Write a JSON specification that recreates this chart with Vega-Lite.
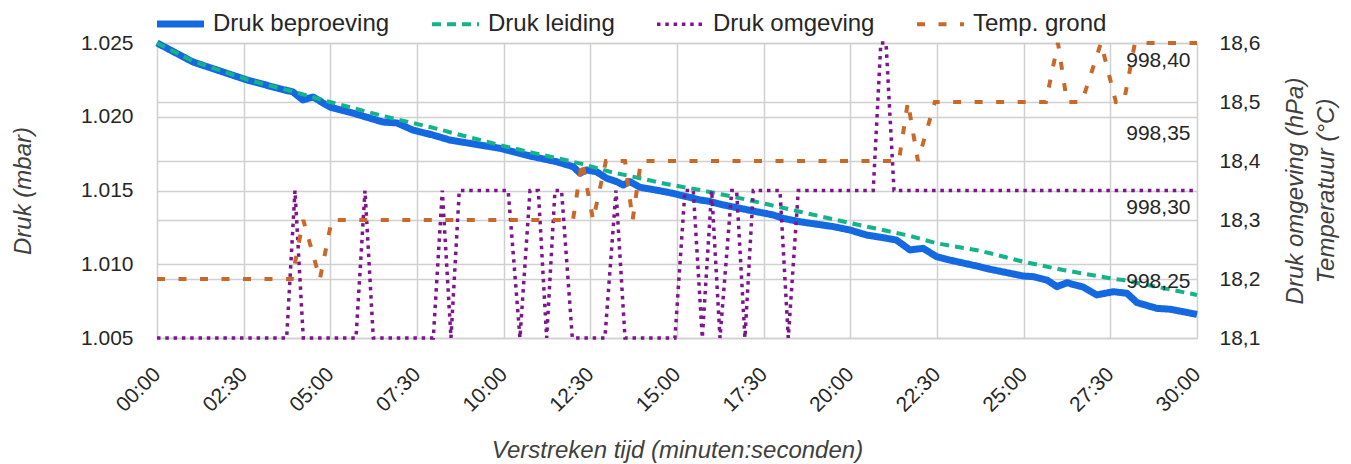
{
  "$schema": "https://vega.github.io/schema/vega-lite/v6.json",
  "width": 1040,
  "height": 295,
  "autosize": {"type": "none"},
  "padding": {"left": 157, "top": 43, "right": 154, "bottom": 126},
  "config": {
    "locale": {"number": {"decimal": ",", "thousands": ".", "grouping": [3], "currency": ["€", ""]}},
    "view": {"stroke": null},
    "font": "Liberation Sans",
    "axis": {
      "labelFont": "Liberation Sans", "labelFontSize": 21, "labelColor": "#262626",
      "titleFont": "Liberation Sans", "titleFontSize": 24, "titleFontStyle": "italic", "titleFontWeight": "normal", "titleColor": "#404040",
      "gridColor": "#d0d0d0", "gridWidth": 1.5, "domain": false, "ticks": false
    },
    "legend": {
      "direction": "horizontal", "columns": 4, "columnPadding": 34,
      "symbolType": "stroke", "symbolSize": 2209,
      "labelFont": "Liberation Sans", "labelFontSize": 24, "labelColor": "#262626",
      "labelOffset": 5.5, "labelLimit": 400
    }
  },
  "data": {"values": [
    {"t": 0, "series": "Druk beproeving", "v": 1025.0},
    {"t": 1.04, "series": "Druk beproeving", "v": 1023.71},
    {"t": 2.6, "series": "Druk beproeving", "v": 1022.49},
    {"t": 3.46, "series": "Druk beproeving", "v": 1021.95},
    {"t": 3.92, "series": "Druk beproeving", "v": 1021.68},
    {"t": 4.21, "series": "Druk beproeving", "v": 1021.14},
    {"t": 4.5, "series": "Druk beproeving", "v": 1021.34},
    {"t": 4.99, "series": "Druk beproeving", "v": 1020.66},
    {"t": 5.65, "series": "Druk beproeving", "v": 1020.25},
    {"t": 6.52, "series": "Druk beproeving", "v": 1019.64},
    {"t": 6.92, "series": "Druk beproeving", "v": 1019.58},
    {"t": 7.38, "series": "Druk beproeving", "v": 1019.1},
    {"t": 7.96, "series": "Druk beproeving", "v": 1018.76},
    {"t": 8.45, "series": "Druk beproeving", "v": 1018.42},
    {"t": 9.89, "series": "Druk beproeving", "v": 1017.86},
    {"t": 10.85, "series": "Druk beproeving", "v": 1017.29},
    {"t": 11.53, "series": "Druk beproeving", "v": 1016.95},
    {"t": 12.01, "series": "Druk beproeving", "v": 1016.61},
    {"t": 12.2, "series": "Druk beproeving", "v": 1016.17},
    {"t": 12.39, "series": "Druk beproeving", "v": 1016.39},
    {"t": 12.68, "series": "Druk beproeving", "v": 1016.27},
    {"t": 12.97, "series": "Druk beproeving", "v": 1015.83},
    {"t": 13.26, "series": "Druk beproeving", "v": 1015.6},
    {"t": 13.45, "series": "Druk beproeving", "v": 1015.37},
    {"t": 13.64, "series": "Druk beproeving", "v": 1015.6},
    {"t": 13.93, "series": "Druk beproeving", "v": 1015.22},
    {"t": 14.51, "series": "Druk beproeving", "v": 1014.98},
    {"t": 14.9, "series": "Druk beproeving", "v": 1014.8},
    {"t": 15.28, "series": "Druk beproeving", "v": 1014.58},
    {"t": 15.66, "series": "Druk beproeving", "v": 1014.36},
    {"t": 15.95, "series": "Druk beproeving", "v": 1014.26},
    {"t": 16.34, "series": "Druk beproeving", "v": 1014.02},
    {"t": 16.82, "series": "Druk beproeving", "v": 1013.79},
    {"t": 17.3, "series": "Druk beproeving", "v": 1013.56},
    {"t": 17.78, "series": "Druk beproeving", "v": 1013.34},
    {"t": 18.07, "series": "Druk beproeving", "v": 1013.11},
    {"t": 18.55, "series": "Druk beproeving", "v": 1012.88},
    {"t": 19.51, "series": "Druk beproeving", "v": 1012.55},
    {"t": 19.99, "series": "Druk beproeving", "v": 1012.32},
    {"t": 20.47, "series": "Druk beproeving", "v": 1011.98},
    {"t": 20.95, "series": "Druk beproeving", "v": 1011.8},
    {"t": 21.33, "series": "Druk beproeving", "v": 1011.64},
    {"t": 21.72, "series": "Druk beproeving", "v": 1010.97},
    {"t": 22.1, "series": "Druk beproeving", "v": 1011.08},
    {"t": 22.49, "series": "Druk beproeving", "v": 1010.51},
    {"t": 22.78, "series": "Druk beproeving", "v": 1010.33},
    {"t": 23.74, "series": "Druk beproeving", "v": 1009.83},
    {"t": 24.03, "series": "Druk beproeving", "v": 1009.66},
    {"t": 24.7, "series": "Druk beproeving", "v": 1009.34},
    {"t": 24.99, "series": "Druk beproeving", "v": 1009.2},
    {"t": 25.28, "series": "Druk beproeving", "v": 1009.16},
    {"t": 25.67, "series": "Druk beproeving", "v": 1008.93},
    {"t": 25.96, "series": "Druk beproeving", "v": 1008.48},
    {"t": 26.25, "series": "Druk beproeving", "v": 1008.75},
    {"t": 26.73, "series": "Druk beproeving", "v": 1008.44},
    {"t": 27.11, "series": "Druk beproeving", "v": 1007.92},
    {"t": 27.59, "series": "Druk beproeving", "v": 1008.14},
    {"t": 27.98, "series": "Druk beproeving", "v": 1008.03},
    {"t": 28.27, "series": "Druk beproeving", "v": 1007.4},
    {"t": 28.84, "series": "Druk beproeving", "v": 1007.01},
    {"t": 29.23, "series": "Druk beproeving", "v": 1006.95},
    {"t": 30, "series": "Druk beproeving", "v": 1006.6},

    {"t": 0, "series": "Druk leiding", "v": 1025.0},
    {"t": 1.04, "series": "Druk leiding", "v": 1023.76},
    {"t": 2.6, "series": "Druk leiding", "v": 1022.52},
    {"t": 3.46, "series": "Druk leiding", "v": 1021.98},
    {"t": 3.92, "series": "Druk leiding", "v": 1021.72},
    {"t": 4.5, "series": "Druk leiding", "v": 1021.32},
    {"t": 4.99, "series": "Druk leiding", "v": 1021.0},
    {"t": 6.52, "series": "Druk leiding", "v": 1020.05},
    {"t": 7.97, "series": "Druk leiding", "v": 1019.25},
    {"t": 8.45, "series": "Druk leiding", "v": 1018.95},
    {"t": 9.89, "series": "Druk leiding", "v": 1018.08},
    {"t": 10.85, "series": "Druk leiding", "v": 1017.55},
    {"t": 11.53, "series": "Druk leiding", "v": 1017.2},
    {"t": 12.2, "series": "Druk leiding", "v": 1016.84},
    {"t": 13.07, "series": "Druk leiding", "v": 1016.27},
    {"t": 13.93, "series": "Druk leiding", "v": 1015.83},
    {"t": 14.7, "series": "Druk leiding", "v": 1015.44},
    {"t": 15.66, "series": "Druk leiding", "v": 1015.03},
    {"t": 16.62, "series": "Druk leiding", "v": 1014.58},
    {"t": 17.58, "series": "Druk leiding", "v": 1014.08},
    {"t": 18.55, "series": "Druk leiding", "v": 1013.56},
    {"t": 19.51, "series": "Druk leiding", "v": 1013.05},
    {"t": 20.47, "series": "Druk leiding", "v": 1012.55},
    {"t": 20.85, "series": "Druk leiding", "v": 1012.37},
    {"t": 21.72, "series": "Druk leiding", "v": 1011.92},
    {"t": 22.49, "series": "Druk leiding", "v": 1011.42},
    {"t": 23.74, "series": "Druk leiding", "v": 1010.92},
    {"t": 24.99, "series": "Druk leiding", "v": 1010.17},
    {"t": 26.14, "series": "Druk leiding", "v": 1009.61},
    {"t": 27.49, "series": "Druk leiding", "v": 1009.05},
    {"t": 27.87, "series": "Druk leiding", "v": 1008.93},
    {"t": 30, "series": "Druk leiding", "v": 1007.92},

    {"t": 0, "series": "Druk omgeving", "v": 998.2},
    {"t": 3.74, "series": "Druk omgeving", "v": 998.2},
    {"t": 3.98, "series": "Druk omgeving", "v": 998.3},
    {"t": 4.22, "series": "Druk omgeving", "v": 998.2},
    {"t": 5.74, "series": "Druk omgeving", "v": 998.2},
    {"t": 6.0, "series": "Druk omgeving", "v": 998.3},
    {"t": 6.24, "series": "Druk omgeving", "v": 998.2},
    {"t": 7.97, "series": "Druk omgeving", "v": 998.2},
    {"t": 8.23, "series": "Druk omgeving", "v": 998.3},
    {"t": 8.48, "series": "Druk omgeving", "v": 998.2},
    {"t": 8.72, "series": "Druk omgeving", "v": 998.3},
    {"t": 10.13, "series": "Druk omgeving", "v": 998.3},
    {"t": 10.47, "series": "Druk omgeving", "v": 998.2},
    {"t": 10.76, "series": "Druk omgeving", "v": 998.3},
    {"t": 11.0, "series": "Druk omgeving", "v": 998.3},
    {"t": 11.24, "series": "Druk omgeving", "v": 998.2},
    {"t": 11.48, "series": "Druk omgeving", "v": 998.3},
    {"t": 11.67, "series": "Druk omgeving", "v": 998.3},
    {"t": 11.98, "series": "Druk omgeving", "v": 998.2},
    {"t": 12.92, "series": "Druk omgeving", "v": 998.2},
    {"t": 13.24, "series": "Druk omgeving", "v": 998.3},
    {"t": 13.5, "series": "Druk omgeving", "v": 998.2},
    {"t": 14.94, "series": "Druk omgeving", "v": 998.2},
    {"t": 15.23, "series": "Druk omgeving", "v": 998.3},
    {"t": 15.47, "series": "Druk omgeving", "v": 998.3},
    {"t": 15.73, "series": "Druk omgeving", "v": 998.2},
    {"t": 16.0, "series": "Druk omgeving", "v": 998.3},
    {"t": 16.24, "series": "Druk omgeving", "v": 998.2},
    {"t": 16.58, "series": "Druk omgeving", "v": 998.3},
    {"t": 16.72, "series": "Druk omgeving", "v": 998.3},
    {"t": 16.96, "series": "Druk omgeving", "v": 998.2},
    {"t": 17.2, "series": "Druk omgeving", "v": 998.3},
    {"t": 17.97, "series": "Druk omgeving", "v": 998.3},
    {"t": 18.21, "series": "Druk omgeving", "v": 998.2},
    {"t": 18.5, "series": "Druk omgeving", "v": 998.3},
    {"t": 20.66, "series": "Druk omgeving", "v": 998.3},
    {"t": 20.88, "series": "Druk omgeving", "v": 998.4},
    {"t": 21.03, "series": "Druk omgeving", "v": 998.4},
    {"t": 21.26, "series": "Druk omgeving", "v": 998.3},
    {"t": 30, "series": "Druk omgeving", "v": 998.3},

    {"t": 0, "series": "Temp. grond", "v": 18.2},
    {"t": 3.89, "series": "Temp. grond", "v": 18.2},
    {"t": 4.22, "series": "Temp. grond", "v": 18.3},
    {"t": 4.7, "series": "Temp. grond", "v": 18.2},
    {"t": 5.04, "series": "Temp. grond", "v": 18.3},
    {"t": 12.0, "series": "Temp. grond", "v": 18.3},
    {"t": 12.26, "series": "Temp. grond", "v": 18.4},
    {"t": 12.58, "series": "Temp. grond", "v": 18.3},
    {"t": 12.95, "series": "Temp. grond", "v": 18.4},
    {"t": 13.5, "series": "Temp. grond", "v": 18.4},
    {"t": 13.72, "series": "Temp. grond", "v": 18.3},
    {"t": 13.96, "series": "Temp. grond", "v": 18.4},
    {"t": 21.4, "series": "Temp. grond", "v": 18.4},
    {"t": 21.66, "series": "Temp. grond", "v": 18.5},
    {"t": 21.95, "series": "Temp. grond", "v": 18.4},
    {"t": 22.44, "series": "Temp. grond", "v": 18.5},
    {"t": 25.64, "series": "Temp. grond", "v": 18.5},
    {"t": 25.99, "series": "Temp. grond", "v": 18.6},
    {"t": 26.25, "series": "Temp. grond", "v": 18.5},
    {"t": 26.68, "series": "Temp. grond", "v": 18.5},
    {"t": 27.23, "series": "Temp. grond", "v": 18.6},
    {"t": 27.66, "series": "Temp. grond", "v": 18.5},
    {"t": 27.89, "series": "Temp. grond", "v": 18.5},
    {"t": 28.21, "series": "Temp. grond", "v": 18.6},
    {"t": 30, "series": "Temp. grond", "v": 18.6}
  ]},
  "encoding": {
    "x": {
      "field": "t", "type": "quantitative",
      "scale": {"domain": [0, 30], "nice": false, "zero": false},
      "axis": {
        "values": [0, 2.5, 5, 7.5, 10, 12.5, 15, 17.5, 20, 22.5, 25, 27.5, 30],
        "labelExpr": "(datum.value < 10 ? '0' : '') + floor(datum.value) + ':' + (datum.value % 1 ? '30' : '00')",
        "labelAngle": -45, "labelAlign": "right", "labelBaseline": "middle", "labelPadding": 33,
        "labelFlush": false, "labelOverlap": false, "grid": true,
        "title": "Verstreken tijd (minuten:seconden)",
        "titleX": 520, "titleY": 112, "titleAlign": "center", "titleBaseline": "middle"
      }
    },
    "color": {
      "field": "series", "type": "nominal",
      "scale": {"domain": ["Druk beproeving", "Druk leiding", "Druk omgeving", "Temp. grond"],
                "range": ["#1469e0", "#14b38c", "#7e148e", "#c8692b"]},
      "legend": {"title": null, "orient": "none", "legendX": -3.5, "legendY": -46, "direction": "horizontal", "columns": 4}
    },
    "strokeDash": {
      "field": "series", "type": "nominal",
      "scale": {"domain": ["Druk beproeving", "Druk leiding", "Druk omgeving", "Temp. grond"],
                "range": [[1, 0], [9, 6], [3.5, 4.8], [8, 13.5]]},
      "legend": {"title": null}
    },
    "strokeWidth": {
      "field": "series", "type": "nominal",
      "scale": {"type": "ordinal", "domain": ["Druk beproeving", "Druk leiding", "Druk omgeving", "Temp. grond"],
                "range": [7, 4, 3.5, 4]},
      "legend": {"title": null}
    }
  },
  "layer": [
    {
      "transform": [{"filter": "datum.series == 'Druk beproeving' || datum.series == 'Druk leiding'"}],
      "mark": {"type": "line", "strokeCap": "butt", "strokeJoin": "round"},
      "encoding": {
        "y": {
          "field": "v", "type": "quantitative",
          "scale": {"domain": [1005, 1025], "nice": false, "zero": false},
          "axis": {
            "orient": "left", "values": [1005, 1010, 1015, 1020, 1025], "format": ",.0f",
            "labelPadding": 24, "grid": true,
            "title": "Druk (mbar)", "titleAngle": 270, "titleX": -134, "titleY": 147.5,
            "titleAlign": "center", "titleBaseline": "middle"
          }
        }
      }
    },
    {
      "transform": [{"filter": "datum.series == 'Druk omgeving'"}],
      "mark": {"type": "line", "strokeCap": "butt", "strokeJoin": "miter"},
      "encoding": {
        "y": {
          "field": "v", "type": "quantitative",
          "scale": {"domain": [998.2, 998.4], "nice": false, "zero": false},
          "axis": {
            "orient": "right", "values": [998.25, 998.3, 998.35, 998.4], "format": ".2f",
            "labelAlign": "right", "labelPadding": -7, "labelOffset": 17, "labelBaseline": "middle",
            "title": null, "grid": false, "zindex": 1
          }
        }
      }
    },
    {
      "transform": [{"filter": "datum.series == 'Temp. grond'"}],
      "mark": {"type": "line", "strokeCap": "butt", "strokeJoin": "miter"},
      "encoding": {
        "y": {
          "field": "v", "type": "quantitative",
          "scale": {"domain": [18.1, 18.6], "nice": false, "zero": false},
          "axis": {
            "orient": "right", "values": [18.1, 18.2, 18.3, 18.4, 18.5, 18.6], "format": ".1f",
            "labelAlign": "left", "labelPadding": 22, "grid": true,
            "title": ["Druk omgeving (hPa)", "Temperatuur (°C)"],
            "titleAngle": 270, "titleX": 98, "titleY": 147.5, "titleAlign": "center",
            "titleBaseline": "middle", "titleLineHeight": 31
          }
        }
      }
    }
  ],
  "resolve": {"scale": {"y": "independent"}}
}
